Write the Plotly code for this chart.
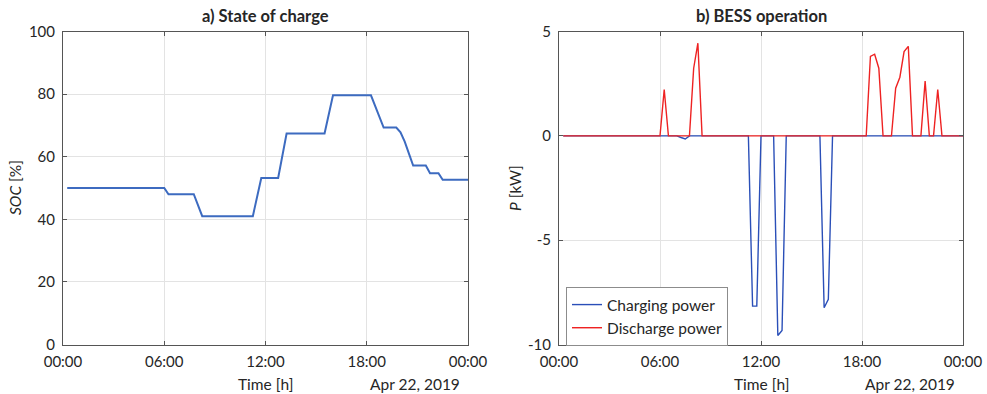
import pandas as pd
import plotly.graph_objects as go

# ---- data (hours since midnight, 2019-04-22) ----
soc_time_h = [0.25, 6.0, 6.25, 7.75, 8.25, 11.25, 11.75, 12.75, 13.25, 15.5, 16.0,
              18.25, 19.0, 19.75, 20.0, 20.25, 20.5, 20.75, 21.5, 21.75, 22.25, 22.5, 24.0]
soc_pct = [50, 50, 48, 48, 41, 41, 53.2, 53.2, 67.4, 67.4, 79.6,
           79.6, 69.3, 69.3, 67.8, 64.8, 61.0, 57.2, 57.2, 54.7, 54.7, 52.6, 52.6]

charge_time_h = [0.25, 7.0, 7.25, 7.5, 7.75, 11.25, 11.5, 11.75, 12.0, 12.75, 13.0, 13.25, 13.5,
                 15.5, 15.75, 16.0, 16.25, 24.0]
charge_kw = [0, 0, -0.08, -0.15, 0, 0, -8.16, -8.16, 0, 0, -9.57, -9.33, 0,
             0, -8.24, -7.84, 0, 0]

discharge_time_h = [0.25, 6.0, 6.25, 6.5, 7.75, 8.0, 8.25, 8.5, 18.25, 18.5, 18.75, 19.0, 19.25,
                    19.75, 20.0, 20.25, 20.5, 20.75, 21.0, 21.5, 21.75, 22.0, 22.25, 22.5, 22.75, 24.0]
discharge_kw = [0, 0, 2.22, 0, 0, 3.24, 4.44, 0, 0, 3.81, 3.91, 3.24, 0,
                0, 2.28, 2.81, 4.04, 4.29, 0, 0, 2.63, 0, 0, 2.22, 0, 0]

tick_hours = [0, 6, 12, 18, 24]
tick_labels = ["00:00", "06:00", "12:00", "18:00", "00:00"]
soc_ticks = [0, 20, 40, 60, 80, 100]
soc_tick_labels = ["0", "20", "40", "60", "80", "100"]
p_ticks = [-10, -5, 0, 5]
p_tick_labels = ["-10", "-5", "0", "5"]
day = pd.Timestamp("2019-04-22")


def to_dt(hours):
    return day + pd.to_timedelta(pd.Series(hours, dtype=float), unit="h")


W, H = 987, 394
FONT = "Lato"
TXT = "#262626"
AXIS_COL = "#555555"
GRID_COL = "#e3e3e3"


def px_x(v):
    return v / W


def px_y(v):
    return 1 - v / H


fig = go.Figure()

fig.add_trace(go.Scatter(x=to_dt(soc_time_h), y=soc_pct, mode="lines",
                         line=dict(color="#3d6bc0", width=2), showlegend=False,
                         xaxis="x", yaxis="y"))
fig.add_trace(go.Scatter(x=to_dt(charge_time_h), y=charge_kw, mode="lines",
                         name="Charging power", line=dict(color="#2a4fb8", width=1.4),
                         xaxis="x2", yaxis="y2"))
fig.add_trace(go.Scatter(x=to_dt(discharge_time_h), y=discharge_kw, mode="lines",
                         name="Discharge power", line=dict(color="#ee2222", width=1.4),
                         xaxis="x2", yaxis="y2"))

tick_dt = list(to_dt(tick_hours))
xcommon = dict(type="date", range=[tick_dt[0], tick_dt[-1]], tickvals=tick_dt,
               ticktext=tick_labels, showline=True, linecolor=AXIS_COL, linewidth=1,
               mirror="ticks", ticks="inside", ticklen=4, tickcolor=AXIS_COL,
               showgrid=True, gridcolor=GRID_COL, gridwidth=1, zeroline=False,
               automargin=False, ticklabelstandoff=3,
               tickfont=dict(family=FONT, size=15, color=TXT))
ycommon = dict(showline=True, linecolor=AXIS_COL, linewidth=1, mirror="ticks",
               ticks="inside", ticklen=4, tickcolor=AXIS_COL, showgrid=True,
               gridcolor=GRID_COL, gridwidth=1, zeroline=False, automargin=False,
               ticklabelstandoff=4,
               tickfont=dict(family=FONT, size=15, color=TXT))

top, bottom = 31.5, 344.5
fig.update_layout(
    width=W, height=H, margin=dict(l=0, r=0, t=0, b=0, autoexpand=False),
    paper_bgcolor="white", plot_bgcolor="white",
    font=dict(family=FONT, size=15, color=TXT),
    xaxis=dict(xcommon, domain=[px_x(63), px_x(468)], anchor="y"),
    yaxis=dict(ycommon, domain=[px_y(bottom), px_y(top)], range=[0, 100],
               tickvals=soc_ticks, ticktext=soc_tick_labels, anchor="x"),
    xaxis2=dict(xcommon, domain=[px_x(559), px_x(963)], anchor="y2"),
    yaxis2=dict(ycommon, domain=[px_y(bottom), px_y(top)], range=[-10, 5],
                tickvals=p_ticks, ticktext=p_tick_labels, anchor="x2"),
    legend=dict(x=px_x(566), y=px_y(287), xanchor="left", yanchor="top",
                bgcolor="white", bordercolor="#8c8c8c", borderwidth=1,
                font=dict(family=FONT, size=15.5, color=TXT),
                tracegroupgap=0),
)

annots = [
    dict(text="<b>a) State of charge</b>", x=px_x(265.5), y=px_y(16), size=16.5),
    dict(text="<b>b) BESS operation</b>", x=px_x(761), y=px_y(16), size=16.5),
    dict(text="Time [h]", x=px_x(265.5), y=px_y(384), size=15.5),
    dict(text="Time [h]", x=px_x(761.5), y=px_y(384), size=15.5),
    dict(text="Apr 22, 2019", x=px_x(414.7), y=px_y(384), size=15.5),
    dict(text="Apr 22, 2019", x=px_x(910), y=px_y(384), size=15.5),
    dict(text="<i>SOC</i> [%]", x=px_x(15), y=px_y(188), textangle=-90, size=15.5),
    dict(text="<i>P</i> [kW]", x=px_x(515), y=px_y(188), textangle=-90, size=15.5),
]
for a in annots:
    size = a.pop("size")
    fig.add_annotation(xref="paper", yref="paper", showarrow=False,
                       xanchor="center", yanchor="middle",
                       font=dict(family=FONT, size=size, color=TXT), **a)

fig.write_html("out.html")
